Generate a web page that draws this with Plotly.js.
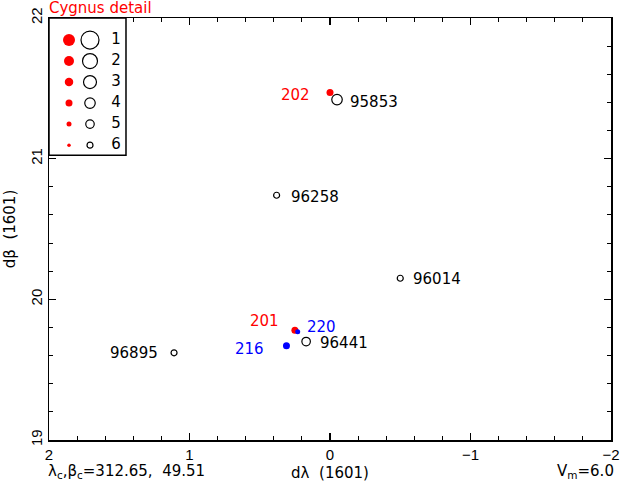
<!DOCTYPE html>
<html>
<head>
<meta charset="utf-8">
<script src="https://cdn.plot.ly/plotly-3.0.1.min.js"></script>
<style>html,body{margin:0;padding:0;background:#fff}#chart{width:620px;height:488px}</style>
</head>
<body>
<div id="chart"></div>
<script>
// ---- data ----
const starNames = ["95853", "96258", "96014", "96441", "96895"];
const starDLambda = [-0.05, 0.38, -0.50, 0.17, 1.11];
const starDBeta = [21.42, 20.74, 20.15, 19.70, 19.62];
const starClass = [4, 6, 6, 5, 6];

const redNames = ["202", "201"];
const redDLambda = [0.00, 0.25];
const redDBeta = [21.47, 19.78];
const redClass = [4, 4];

const blueNames = ["216", "220"];
const blueDLambda = [0.31, 0.23];
const blueDBeta = [19.67, 19.77];
const blueClass = [4, 5];

const legendClasses = [1, 2, 3, 4, 5, 6];

const titleText = "Cygnus detail";
const xTitle = "dλ&nbsp;&nbsp;(1601)";
const yTitle = "dβ&nbsp;&nbsp;(1601)";
const centerText = "λ<sub>c</sub>,β<sub>c</sub>=312.65,&nbsp;&nbsp;49.51";
const magText = "V<sub>m</sub>=6.0";

// ---- styles ----
const RED = "#ff0000", BLUE = "#0000ff", BLACK = "#000000";
const FONT = "DejaVu Sans, Verdana, sans-serif";
const TICKFONT = "Liberation Sans, Arial, sans-serif";
const filledSize = {1: 12, 2: 10, 3: 8.5, 4: 7, 5: 5, 6: 3.5};
const openSize = {1: 18, 2: 15, 3: 13, 4: 10.5, 5: 8.5, 6: 6};
const legendCol = {filled: 20, open: 41, label: 67};
const labelPlace = {
  "95853": {side: "left", dx: 11, dy: -2},
  "96258": {side: "left", dx: 12, dy: -2},
  "96014": {side: "left", dx: 11, dy: -1},
  "96441": {side: "left", dx: 12, dy: -1},
  "96895": {side: "right", dx: -14, dy: 0},
  "202": {side: "right", dx: -18, dy: -2},
  "201": {side: "right", dx: -14, dy: 9},
  "216": {side: "right", dx: -20, dy: -3},
  "220": {side: "left", dx: 7, dy: 5}
};

const traces = [
  {x: starDLambda, y: starDBeta, mode: "markers", type: "scatter", hoverinfo: "skip",
   marker: {symbol: "circle-open", color: BLACK, opacity: 1, size: starClass.map(c => openSize[c]), line: {width: 1.2, color: BLACK}}},
  {x: redDLambda, y: redDBeta, mode: "markers", type: "scatter", hoverinfo: "skip",
   marker: {symbol: "circle", color: RED, opacity: 1, size: redClass.map(c => filledSize[c]), line: {width: 0}}},
  {x: blueDLambda, y: blueDBeta, mode: "markers", type: "scatter", hoverinfo: "skip",
   marker: {symbol: "circle", color: BLUE, opacity: 1, size: blueClass.map(c => filledSize[c]), line: {width: 0}}},
  // legend key
  {x: legendClasses.map(() => legendCol.filled), y: legendClasses, xaxis: "x2", yaxis: "y2",
   mode: "markers", type: "scatter", hoverinfo: "skip",
   marker: {symbol: "circle", color: RED, opacity: 1, size: legendClasses.map(c => filledSize[c]), line: {width: 0}}},
  {x: legendClasses.map(() => legendCol.open), y: legendClasses, xaxis: "x2", yaxis: "y2",
   mode: "markers", type: "scatter", hoverinfo: "skip",
   marker: {symbol: "circle-open", color: BLACK, opacity: 1, size: legendClasses.map(c => openSize[c]), line: {width: 1.2, color: BLACK}}},
  {x: legendClasses.map(() => legendCol.label), y: legendClasses, xaxis: "x2", yaxis: "y2",
   mode: "text", type: "scatter", hoverinfo: "skip", text: legendClasses.map(String),
   textposition: "middle center", textfont: {family: FONT, size: 15, color: BLACK}}
];

const annotations = [];
function addLabels(names, xs, ys, color) {
  names.forEach((n, i) => {
    const p = labelPlace[n];
    annotations.push({x: xs[i], y: ys[i], xref: "x", yref: "y", text: n, showarrow: false,
      xanchor: p.side, yanchor: "middle", xshift: p.dx, yshift: p.dy,
      font: {family: FONT, size: 15, color: color}});
  });
}
addLabels(starNames, starDLambda, starDBeta, BLACK);
addLabels(redNames, redDLambda, redDBeta, RED);
addLabels(blueNames, blueDLambda, blueDBeta, BLUE);

annotations.push({xref: "paper", yref: "paper", x: 0, y: 0, xanchor: "left", yanchor: "middle",
  xshift: -3, yshift: -31, text: centerText, showarrow: false, font: {family: FONT, size: 15, color: BLACK}});
annotations.push({xref: "paper", yref: "paper", x: 1, y: 0, xanchor: "right", yanchor: "middle",
  xshift: 5, yshift: -31, text: magText, showarrow: false, font: {family: FONT, size: 15, color: BLACK}});

const axisCommon = {
  showgrid: false, zeroline: false, showline: true, linecolor: BLACK, linewidth: 1.5,
  mirror: "ticks", ticks: "inside", ticklen: 7, tickwidth: 1.2, tickcolor: BLACK,
  tickfont: {family: TICKFONT, size: 15, color: BLACK}, dtick: 1, ticklabeloverflow: "allow",
  minor: {dtick: 0.2, ticks: "inside", ticklen: 4, tickwidth: 1, tickcolor: BLACK}
};

const layout = {
  width: 620, height: 488,
  margin: {l: 49, r: 9, t: 18, b: 48, pad: 0},
  paper_bgcolor: "#ffffff", plot_bgcolor: "#ffffff",
  showlegend: false,
  title: {text: titleText, x: 0.079, xanchor: "left", y: 0.984, yanchor: "middle",
          font: {family: FONT, size: 15, color: RED}},
  xaxis: Object.assign({}, axisCommon, {range: [2, -2], tick0: 0,
    title: {text: xTitle, standoff: 6, font: {family: FONT, size: 15, color: BLACK}}}),
  yaxis: Object.assign({}, axisCommon, {range: [19, 22], tick0: 19, tickangle: -90,
    title: {text: yTitle, standoff: 8, font: {family: FONT, size: 15, color: BLACK}}}),
  xaxis2: {domain: [0, 0.137], anchor: "y2", range: [0, 77], visible: false, fixedrange: true},
  yaxis2: {domain: [0.675, 1], anchor: "x2", range: [6.476, -0.048], visible: false, fixedrange: true},
  shapes: [{type: "rect", xref: "paper", yref: "paper", x0: 0, x1: 0.137, y0: 0.675, y1: 1,
    line: {color: BLACK, width: 1.5}, fillcolor: "rgba(0,0,0,0)"}],
  annotations: annotations
};

Plotly.newPlot("chart", traces, layout, {staticPlot: true, displayModeBar: false});
</script>
</body>
</html>
